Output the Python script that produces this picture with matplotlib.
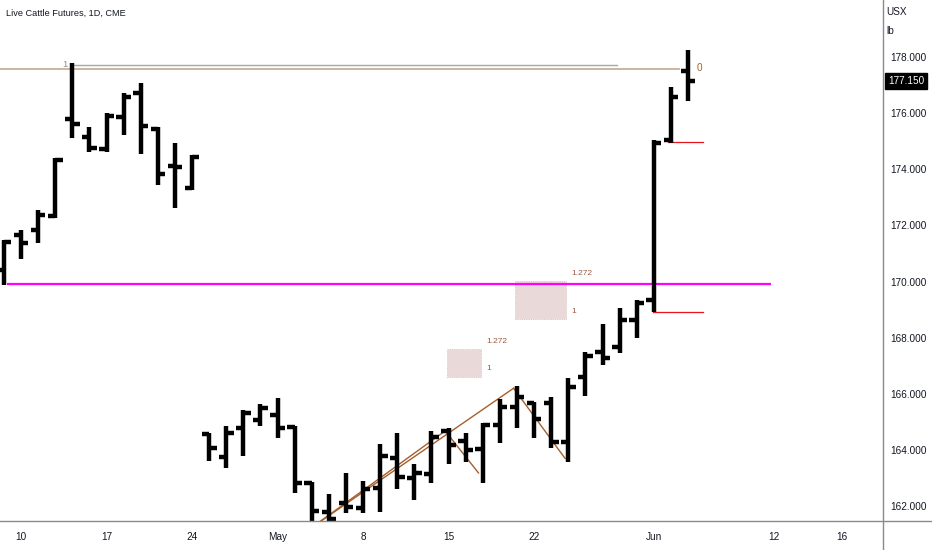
import matplotlib
matplotlib.use("Agg")
import matplotlib.pyplot as plt
import matplotlib.transforms as mtransforms
from matplotlib.lines import Line2D
from matplotlib.patches import Rectangle

# ---------------- data (trading-day index, OHLC) ----------------
idx = list(range(-1, 40))
opens = [170.41, 171.66, 171.84, 172.34, 175.79, 175.15, 174.72, 175.86, 176.72, 175.43, 174.12, 173.33,
         164.57, 163.75, 164.78, 165.07, 165.25, 164.82, 162.82, 161.79, 162.11, 161.93, 162.65, 163.71,
         163.00, 163.14, 164.68, 164.32, 164.03, 164.89, 165.53, 165.67, 165.67, 164.28, 166.61, 167.50,
         167.68, 168.63, 169.34, 175.04, 177.51]
highs = [171.48, 171.84, 172.55, 174.40, 177.79, 175.51, 176.00, 176.72, 177.07, 175.51, 174.94, 174.51,
         164.60, 164.85, 165.42, 165.64, 165.85, 164.85, 162.86, 162.43, 163.18, 162.89, 164.21, 164.60,
         163.50, 164.68, 164.78, 164.60, 164.96, 165.82, 166.28, 165.71, 165.89, 166.56, 167.50, 168.49,
         169.06, 169.34, 175.04, 176.93, 178.25]
lows = [169.88, 170.80, 171.37, 172.26, 175.11, 174.62, 174.62, 175.22, 174.54, 173.44, 172.62, 173.26,
        163.61, 163.36, 163.79, 164.85, 164.43, 162.47, 161.30, 161.30, 161.75, 161.75, 161.79, 162.61,
        162.22, 162.82, 163.50, 163.57, 162.82, 164.25, 164.78, 164.43, 164.07, 163.57, 165.92, 167.03,
        167.46, 167.99, 168.92, 174.94, 176.44]
closes = [171.41, 171.37, 172.37, 174.33, 175.61, 174.76, 175.90, 176.57, 175.54, 173.83, 174.08, 174.44,
          164.07, 164.60, 165.32, 165.50, 164.78, 162.82, 161.82, 161.55, 161.97, 162.61, 163.79, 163.04,
          163.18, 164.46, 164.18, 164.00, 164.89, 165.53, 165.89, 165.10, 164.28, 166.24, 167.36, 167.28,
          168.63, 169.25, 174.94, 176.59, 177.15]
last_price = 177.15

xtick_pos = [0, 5, 10, 15, 20, 25, 30, 37, 44, 48]
xtick_labels = ["10", "17", "24", "May", "8", "15", "22", "Jun", "12", "16"]
ytick_vals = [162, 164, 166, 168, 170, 172, 174, 176, 178]

# annotation levels
magenta_level = 169.91
fib_gray_level = 177.72
fib_tan_level = 177.57
red_levels = [(37.84, 39.9, 174.98), (36.96, 39.9, 168.93)]
boxes = [(24.9, 26.9, 166.61, 167.59), (28.9, 31.87, 168.66, 170.02)]
trend_lines = [((17.0, 28.8), (161.24, 166.20)),
               ((17.0, 24.8), (161.24, 164.68)),
               ((24.8, 26.75), (164.68, 163.18)),
               ((28.8, 31.81), (166.20, 163.70))]

# ---------------- figure ----------------
W, H = 932, 550
fig = plt.figure(figsize=(W / 100, H / 100), dpi=100)
fig.patch.set_facecolor("white")
plt.rcParams["font.family"] = ["Liberation Sans", "DejaVu Sans"]
txtc = "#131722"

ax = fig.add_axes([0, 29 / H, 883 / W, 521 / H])
ax.set_xlim(-1.23, 50.4)
ax.set_ylim(161.47, 180.03)
for s in ax.spines.values():
    s.set_visible(False)

# magenta horizontal
ax.plot([-0.82, 43.86], [magenta_level] * 2, color="#ff00ff", lw=1.6, solid_capstyle="butt", zorder=2)
# fib lines
ax.plot([-1.3, 38.5], [fib_tan_level] * 2, color="#c8b09a", lw=1.3, zorder=2)
ax.plot([2.98, 34.85], [fib_gray_level] * 2, color="#a8a8a8", lw=1.0, zorder=2)
ax.text(2.7, fib_gray_level, "1", color="#8f8f8f", fontsize=6.8, ha="right", va="center")
ax.text(39.5, fib_tan_level + 0.02, "0", color="#a8601f", fontsize=7.2, ha="left", va="center")
# red lines
for x0, x1, lv in red_levels:
    ax.plot([x0, x1], [lv, lv], color="#e8141e", lw=0.9, zorder=2)
# boxes
for x0, x1, y0, y1 in boxes:
    ax.add_patch(Rectangle((x0, y0), x1 - x0, y1 - y0, facecolor="#ead9d9", edgecolor="#d6b8b8",
                           lw=0.6, ls=":", zorder=1))
    ax.text(x1 + 0.33, y1 + 0.28, "1.272", color="#9a5a44", fontsize=6, ha="left", va="center")
    ax.text(x1 + 0.33, y0 + 0.29, "1", color="#9a5a44", fontsize=6, ha="left", va="center")
# trend lines
for xs, ys in trend_lines:
    ax.plot(xs, ys, color="#a65f2c", lw=1.0, zorder=2)

# OHLC bars
lw = 3.2
ax.vlines(idx, lows, highs, colors="black", lw=lw, capstyle="butt", zorder=4)
ax.hlines(opens, [i - 0.43 for i in idx], idx, colors="black", lw=lw, capstyle="butt", zorder=4)
ax.hlines(closes, idx, [i + 0.43 for i in idx], colors="black", lw=lw, capstyle="butt", zorder=4)

# axes ticks
ax.set_xticks(xtick_pos)
ax.set_xticklabels(xtick_labels)
ax.set_yticks(ytick_vals)
ax.set_yticklabels([f"{v:.3f}" for v in ytick_vals])
ax.yaxis.set_ticks_position("right")
ax.tick_params(axis="y", length=0, pad=5, labelsize=7.2, labelcolor=txtc)
ax.tick_params(axis="x", length=0, pad=8, labelsize=7.2, labelcolor=txtc)

# frame lines (full width / height)
fig.add_artist(Line2D([0, 1], [29 / H, 29 / H], color="#8a8a8a", lw=1.0, transform=fig.transFigure))
fig.add_artist(Line2D([883 / W, 883 / W], [0, 1], color="#8a8a8a", lw=1.0, transform=fig.transFigure))

# last price label
tr = mtransforms.blended_transform_factory(ax.transAxes, ax.transData)
ax.text(1.0 + 5 / 883, last_price, f"{last_price:.3f}", transform=tr, color="white", fontsize=7.2,
        ha="left", va="center", clip_on=False,
        bbox=dict(boxstyle="square,pad=0.3", facecolor="black", edgecolor="black"))

# titles
fig.text(6 / W, 1 - 13 / H, "Live Cattle Futures, 1D, CME", fontsize=6.6, color=txtc, ha="left", va="center")
fig.text(886 / W, 1 - 12 / H, "USX", fontsize=7.2, color=txtc, ha="left", va="center")
fig.text(886 / W, 1 - 31 / H, "lb", fontsize=7.2, color=txtc, ha="left", va="center")

fig.savefig("out.png", dpi=100, facecolor="white")
